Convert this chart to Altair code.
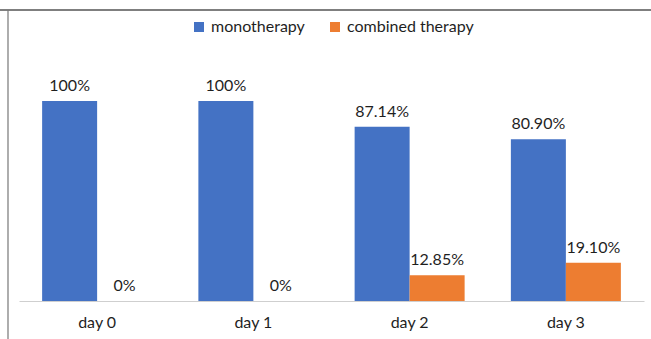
import altair as alt
import pandas as pd

# Share of patients on each treatment by day
days = ["day 0", "day 1", "day 2", "day 3"]
monotherapy = [100, 100, 87.14, 80.90]
combined = [0, 0, 12.85, 19.10]
series = ["monotherapy", "combined therapy"]
colors = ["#4472C4", "#ED7D31"]


def pct(v):
    return f"{v:.0f}%" if float(v).is_integer() else f"{v:.2f}%"


rows = []
for name, vals in zip(series, [monotherapy, combined]):
    for d, v in zip(days, vals):
        rows.append({"day": d, "therapy": name, "value": v, "label": pct(v)})
df = pd.DataFrame(rows)

FONT = "Lato"
FS = 16

base = alt.Chart(df).encode(
    x=alt.X(
        "day:N",
        sort=days,
        title=None,
        scale=alt.Scale(paddingInner=0.296, paddingOuter=0.148),
        axis=alt.Axis(
            labelAngle=0,
            ticks=False,
            domainColor="#CFCFCF",
            domainWidth=1,
            labelFont=FONT,
            labelFontSize=FS,
            labelColor="#1f1f1f",
            labelPadding=13,
        ),
    ),
    xOffset=alt.XOffset("therapy:N", sort=series, scale=alt.Scale(paddingInner=0, paddingOuter=0)),
)

bars = base.mark_bar().encode(
    y=alt.Y("value:Q", scale=alt.Scale(domain=[0, 120]), axis=None),
    color=alt.Color(
        "therapy:N",
        sort=series,
        scale=alt.Scale(domain=series, range=colors),
        legend=alt.Legend(
            title=None,
            orient="none",
            direction="horizontal",
            legendX=172,
            legendY=-42,
            symbolType="square",
            symbolSize=100,
            symbolStrokeWidth=0,
            labelFont=FONT,
            labelFontSize=FS,
            labelColor="#1f1f1f",
            labelOffset=4,
            columnPadding=22,
        ),
    ),
)

labels = base.mark_text(
    baseline="bottom", dy=-7, font=FONT, fontSize=FS, color="#1f1f1f"
).encode(
    y=alt.Y("value:Q", scale=alt.Scale(domain=[0, 120]), axis=None),
    text="label:N",
)

# Frame lines along the top and left edges of the figure
frame_data = alt.Data(values=[{}])
top_line = alt.Chart(frame_data).mark_rule(color="#555555", strokeWidth=1.5).encode(
    x=alt.value(-19), x2=alt.value(640), y=alt.value(-51)
)
left_line = alt.Chart(frame_data).mark_rule(color="#777777", strokeWidth=1.2).encode(
    x=alt.value(-11), y=alt.value(-51), y2=alt.value(300)
)

chart = (
    alt.layer(bars, labels, top_line, left_line)
    .properties(
        width=625,
        height=240,
        autosize=alt.AutoSizeParams(type="none"),
        padding={"left": 19, "top": 61, "right": 7, "bottom": 38},
        background="white",
    )
    .configure_view(stroke=None)
)

chart.save("out.html", embed_options={"renderer": "svg", "actions": False})
